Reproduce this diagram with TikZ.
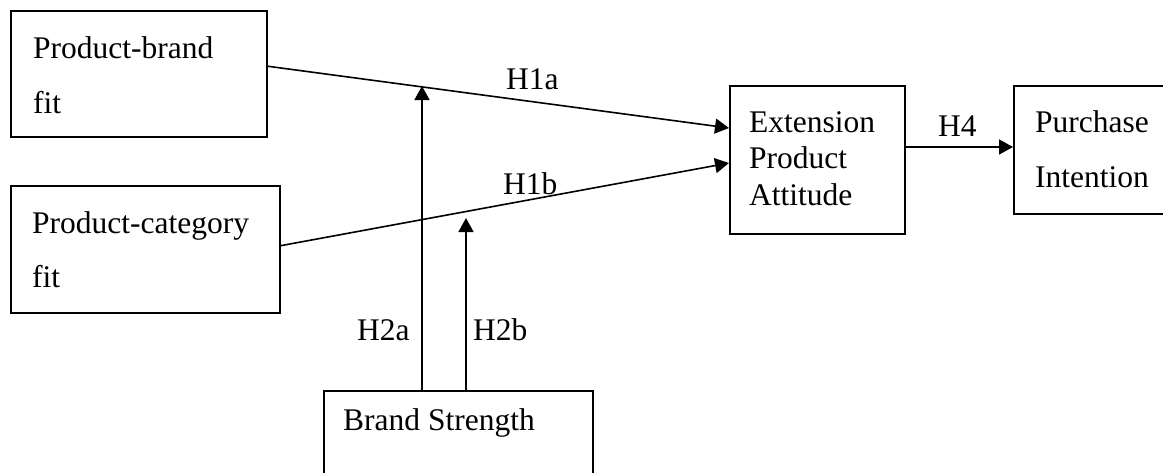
\documentclass[tikz,border=0pt]{standalone}
\usepackage{fontspec}
\setmainfont{Liberation Serif}
\usetikzlibrary{arrows.meta}
\begin{document}
\begin{tikzpicture}[x=1pt,y=-1pt,
  box/.style={draw,line width=1.6pt,inner sep=0pt,anchor=north west},
  lbl/.style={anchor=base west,inner sep=0pt,font=\fontsize{31.5}{38}\selectfont},
  conn/.style={line width=1.6pt,-{Triangle[length=14pt,width=15pt]}}]
\useasboundingbox (0,0) rectangle (1163,472);
% boxes
\node[box,minimum width=256pt,minimum height=126pt] (pb) at (10,10) {};
\node[box,minimum width=269pt,minimum height=127pt] (pc) at (10,185) {};
\node[box,minimum width=175pt,minimum height=148pt] (ext) at (729,85) {};
\node[box,minimum width=180pt,minimum height=128pt] (pi) at (1013,85) {};
\node[box,minimum width=269pt,minimum height=120pt] (bs) at (323,390) {};
% texts
\node[lbl] (t1) at (33,58) {Product-brand};
\node[lbl] (t2) at (33,113) {fit};
\node[lbl] (t3) at (32,233) {Product-category};
\node[lbl] (t4) at (32,287) {fit};
\node[lbl] (t5) at (749,132) {Extension};
\node[lbl] (t6) at (749,168) {Product};
\node[lbl] (t7) at (749,205) {Attitude};
\node[lbl] (t8) at (1035,132) {Purchase};
\node[lbl] (t9) at (1035,187) {Intention};
\node[lbl] (t10) at (343,430) {Brand Strength};
% hypothesis labels
\node[lbl] (h1a) at (506,89) {H1a};
\node[lbl] (h1b) at (503,194) {H1b};
\node[lbl] (h2a) at (357,340) {H2a};
\node[lbl] (h2b) at (473,340) {H2b};
\node[lbl] (h4) at (938,136) {H4};
% connector coordinates
\coordinate (a1) at (266,66);
\coordinate (a2) at (729,128);
\coordinate (b1) at (279,246);
\coordinate (b2) at (729,163);
\coordinate (c1) at (422,390);
\coordinate (c2) at (422,86);
\coordinate (d1) at (466,390);
\coordinate (d2) at (466,218);
\coordinate (e1) at (904,147);
\coordinate (e2) at (1013,147);
\draw[conn] (a1) -- (a2);
\draw[conn] (b1) -- (b2);
\draw[conn] (c1) -- (c2);
\draw[conn] (d1) -- (d2);
\draw[conn] (e1) -- (e2);
\end{tikzpicture}
\end{document}
